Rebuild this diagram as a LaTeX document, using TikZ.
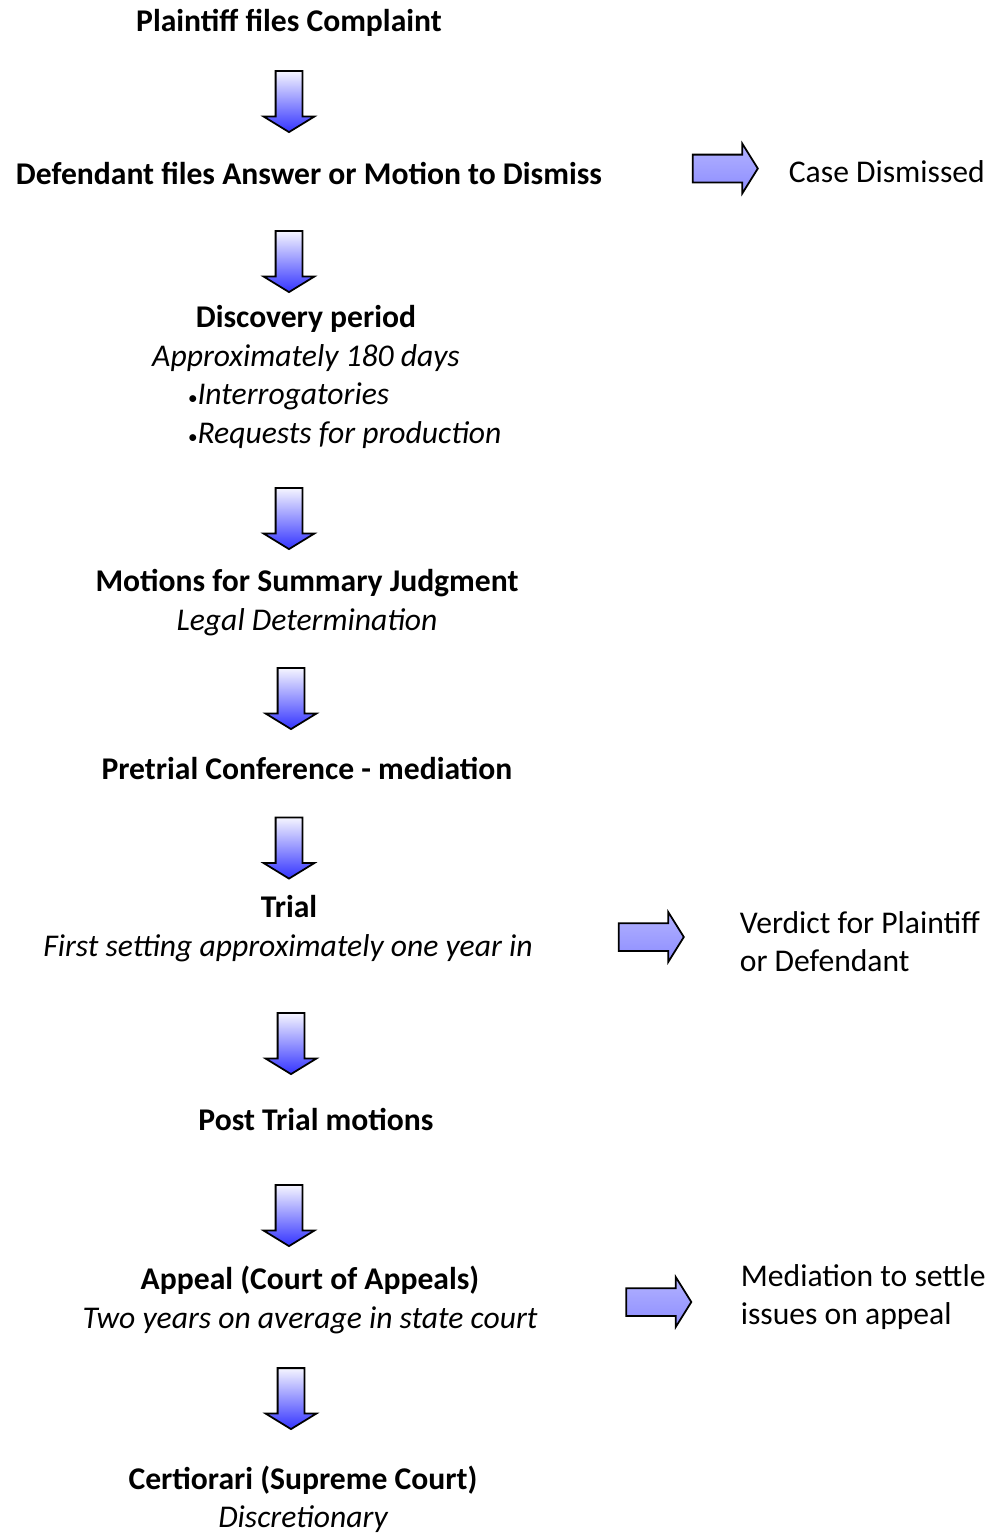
\documentclass[tikz,border=0pt]{standalone}
\usepackage{fontspec}
\setmainfont{Carlito}
\usetikzlibrary{shapes.arrows}

\newcommand{\smallbullet}{{\fontsize{11}{12}\selectfont\textbullet}}

\begin{document}
\begin{tikzpicture}[x=0.02cm,y=-0.02cm,line width=1pt,
                    font=\fontsize{18}{22}\selectfont]
  \tikzstyle{stage}=[anchor=base,inner sep=0pt,font=\fontsize{18}{22}\selectfont\bfseries]
  \tikzstyle{note}=[anchor=base,inner sep=0pt,font=\fontsize{18}{22}\selectfont\itshape]
  \tikzstyle{item}=[anchor=base west,inner sep=0pt,font=\fontsize{18}{22}\selectfont\itshape]
  \tikzstyle{outcome}=[anchor=base west,inner sep=0pt]
  \tikzstyle{down}=[single arrow,draw=black,shape border rotate=270,
                    inner ysep=0pt,inner xsep=0.25cm,minimum height=1.22cm,
                    single arrow head extend=0.24cm,single arrow tip angle=117,
                    top color=blue!4!white,bottom color=blue!80!white]
  \tikzstyle{side}=[single arrow,draw=black,
                    inner xsep=0pt,inner ysep=0.26cm,minimum height=1.3cm,
                    single arrow head extend=0.22cm,single arrow tip angle=116,
                    top color=blue!30!white,middle color=blue!18!white,bottom color=blue!45!white]

  \useasboundingbox (0,0) rectangle (1005,1535);

  \node[stage] (plaintiff) at (289,31) {Plaintiff files Complaint};
  \node[down] (a1) at (289,97.5) {};

  \node[stage] (answer) at (309,184) {Defendant files Answer or Motion to Dismiss};
  \node[side] (s1) at (721,168.5) {};
  \node[outcome] (dismissed) at (788,182) {Case Dismissed};
  \node[down] (a2) at (289,257.5) {};

  \node[stage] (discovery) at (306,327) {Discovery period};
  \node[note] (discovery-t) at (306,366) {Approximately 180 days};
  \node[item] (interrog) at (187,404) {\smallbullet Interrogatories};
  \node[item] (requests) at (187,443) {\smallbullet Requests for production};
  \node[down] (a3) at (289,514.5) {};

  \node[stage] (summary) at (307,591) {Motions for Summary Judgment};
  \node[note] (summary-t) at (307,630) {Legal Determination};
  \node[down] (a4) at (291,694.5) {};

  \node[stage] (pretrial) at (307,779) {Pretrial Conference - mediation};
  \node[down] (a5) at (289,844) {};

  \node[stage] (trial) at (289,917) {Trial};
  \node[note] (trial-t) at (288,956) {First setting approximately one year in};
  \node[side] (s2) at (647,937) {};
  \node[outcome] (verdict) at (739,933) {Verdict for Plaintiff};
  \node[outcome] (verdict-b) at (739,971) {or Defendant};
  \node[down] (a6) at (291,1039.5) {};

  \node[stage] (posttrial) at (316,1130) {Post Trial motions};
  \node[down] (a7) at (289,1211.5) {};

  \node[stage] (appeal) at (310,1289) {Appeal (Court of Appeals)};
  \node[note] (appeal-t) at (310,1328) {Two years on average in state court};
  \node[side] (s3) at (654.5,1302) {};
  \node[outcome] (mediation) at (740,1286) {Mediation to settle};
  \node[outcome] (mediation-b) at (740,1324) {issues on appeal};
  \node[down] (a8) at (291,1394.5) {};

  \node[stage] (certiorari) at (303,1489) {Certiorari (Supreme Court)};
  \node[note] (certiorari-t) at (303,1527) {Discretionary};
\end{tikzpicture}
\end{document}
